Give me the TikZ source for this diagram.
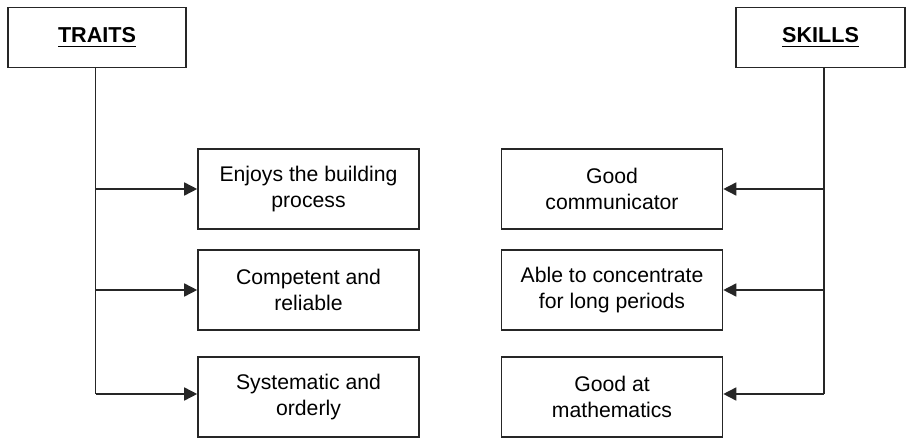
\documentclass[tikz,border=0pt]{standalone}
\usepackage{fontspec}
\setmainfont{Liberation Sans}
\usetikzlibrary{positioning,arrows.meta}

\begin{document}
\begin{tikzpicture}[
    x=0.5pt, y=-0.5pt,
    % Common styling
    every node/.style={
        align=center,
        font=\fontsize{10.6}{13.2}\selectfont
    },
    % Custom styles for the boxes
    header/.style={
        draw=black!85,
        line width=0.8pt,
        minimum height=30pt,
        inner sep=0pt,
        font=\fontsize{10.8}{13.2}\selectfont\bfseries
    },
    item/.style={
        draw=black!85,
        line width=0.8pt,
        minimum width=110.5pt,
        minimum height=40pt,
        inner sep=0pt
    },
    link/.style={
        line width=0.8pt,
        black!85
    },
    pointer/.style={
        link,
        -{Triangle[length=6.5pt,width=6.5pt]}
    }
]
    \useasboundingbox (0,0) rectangle (906,438);

    % Header boxes
    \node[header, minimum width=89pt] (traits) at (97,37.5) {\underline{TRAITS}};
    \node[header, minimum width=84.5pt] (skills) at (820.5,37.5) {\underline{SKILLS}};

    % Traits
    \node[item] (enjoys) at (308.5,189) {Enjoys the building\\process};
    \node[item] (competent) at (308.5,290) {Competent and\\reliable};
    \node[item] (systematic) at (308.5,397) {Systematic and\\orderly};

    % Skills
    \node[item] (communicator) at (612,189) {Good\\communicator};
    \node[item] (concentrate) at (612,290) {Able to concentrate\\for long periods};
    \node[item] (maths) at (612,397) {Good at\\mathematics};

    % Trunk lines
    \coordinate (traitsend) at (95.5,394);
    \coordinate (skillsend) at (824,394);
    \draw[link] (traits.south -| traitsend) -- (traitsend);
    \draw[link] (skills.south -| skillsend) -- (skillsend);

    % Branches
    \draw[pointer] (traitsend |- enjoys.west) -- (enjoys.west);
    \draw[pointer] (traitsend |- competent.west) -- (competent.west);
    \draw[pointer] (traitsend) -- (traitsend -| systematic.west);
    \draw[pointer] (skillsend |- communicator.east) -- (communicator.east);
    \draw[pointer] (skillsend |- concentrate.east) -- (concentrate.east);
    \draw[pointer] (skillsend) -- (skillsend -| maths.east);
\end{tikzpicture}
\end{document}
